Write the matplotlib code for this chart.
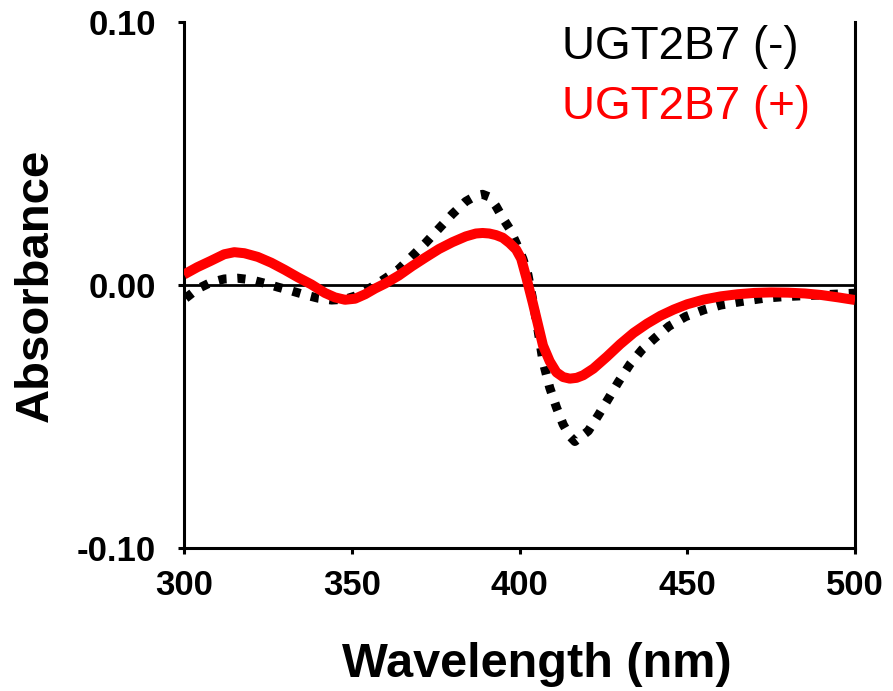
import matplotlib
matplotlib.use("Agg")
import matplotlib.pyplot as plt

plt.rcParams['font.family'] = ['Liberation Sans', 'DejaVu Sans']

# wavelength (nm) / absorbance
wl_minus = [300.5, 304, 308, 312, 316, 320, 324, 328, 332, 336,
            340, 344, 348, 351, 354, 357, 360, 364, 368, 372,
            376, 380, 384, 387, 389, 391, 393, 395, 397, 399,
            401, 402.5, 404, 405.5, 407, 409, 411, 413, 415, 416.5,
            418, 420.5, 423.5, 426.5, 429.5, 433, 436.5, 440.5, 444.5, 449.5,
            455, 460, 466, 473, 479, 489, 500]
abs_minus = [-0.005, -0.0015, 0.001, 0.0023, 0.0026, 0.002, 0.0007, -0.0008, -0.0022, -0.0037,
             -0.005, -0.0057, -0.0054, -0.0042, -0.0022, 0.0, 0.0025, 0.006, 0.011, 0.016,
             0.0215, 0.027, 0.0318, 0.034, 0.0345, 0.0335, 0.030, 0.0255, 0.0215, 0.016,
             0.010, 0.004, -0.006, -0.017, -0.029, -0.039, -0.0465, -0.053, -0.0575, -0.0595,
             -0.058, -0.0555, -0.0495, -0.0432, -0.0368, -0.030, -0.0246, -0.020, -0.0157, -0.012,
             -0.0094, -0.0076, -0.0063, -0.005, -0.0044, -0.0038, -0.0031]

wl_plus = [300, 304, 308, 312, 315, 318, 322, 326, 330, 334,
           338, 342, 345, 348, 351, 354, 357, 360, 364, 368,
           372, 376, 380, 384, 387, 389, 391, 393, 395, 397,
           399, 400.5, 402, 404, 405.5, 407, 409, 411, 413, 415,
           417, 419, 422, 426, 430, 434, 438, 442, 446, 450,
           455, 460, 465, 470, 475, 480, 485, 490, 495, 500]
abs_plus = [0.004, 0.0068, 0.0092, 0.0117, 0.0125, 0.0121, 0.0107, 0.0085, 0.0058, 0.0029,
            0.0002, -0.003, -0.0047, -0.0056, -0.0052, -0.0035, -0.0013, 0.0006, 0.0036, 0.0072,
            0.0105, 0.0137, 0.0163, 0.0185, 0.0196, 0.0198, 0.0196, 0.019, 0.018, 0.016,
            0.0135, 0.010, 0.003, -0.007, -0.015, -0.023, -0.029, -0.0332, -0.035, -0.0356,
            -0.0353, -0.0343, -0.0318, -0.0273, -0.0225, -0.0182, -0.0147, -0.0117, -0.0093, -0.0073,
            -0.0055, -0.0043, -0.0035, -0.003, -0.0028, -0.0029, -0.0032, -0.0038, -0.0047, -0.0057]

x_ticks = [300, 350, 400, 450, 500]
y_ticks = [-0.10, 0.00, 0.10]

fig = plt.figure(figsize=(8.93, 6.91), dpi=100)
ax = fig.add_axes([0.206, 0.207, 0.7515, 0.761])

ax.axhline(0, color='black', lw=2.0, zorder=1)
ax.plot(wl_minus, abs_minus, color='black', lw=6.5, dashes=(0.9, 1.2),
        dash_capstyle='butt', dash_joinstyle='round', zorder=2)
ax.plot(wl_plus, abs_plus, color='#ff0000', lw=7.2, solid_capstyle='butt',
        solid_joinstyle='round', zorder=3)

ax.set_xlim(300, 500)
ax.set_ylim(-0.10, 0.10)
ax.set_xticks(x_ticks)
ax.set_yticks(y_ticks)
ax.set_yticklabels(['%.2f' % v for v in y_ticks])

for s in ['left', 'bottom', 'right']:
    ax.spines[s].set_linewidth(2.2)
ax.spines['top'].set_visible(False)

ax.tick_params(axis='x', direction='out', length=4, width=2.2, pad=11, labelsize=25)
ax.tick_params(axis='y', direction='out', length=4, width=2.2, pad=16, labelsize=25)
for lab in ax.get_xticklabels() + ax.get_yticklabels():
    lab.set_fontweight('bold')

ax.set_xlabel('Wavelength (nm)', fontsize=35, fontweight='bold', labelpad=29)
ax.xaxis.label.set_x(0.526)
ax.set_ylabel('Absorbance', fontsize=34, fontweight='bold', labelpad=14)

ax.text(0.563, 0.952, 'UGT2B7 (-)', transform=ax.transAxes, fontsize=33,
        color='black', va='center', ha='left')
ax.text(0.563, 0.838, 'UGT2B7 (+)', transform=ax.transAxes, fontsize=33,
        color='#ff0000', va='center', ha='left')

plt.savefig('out.png', dpi=100)
plt.close()
